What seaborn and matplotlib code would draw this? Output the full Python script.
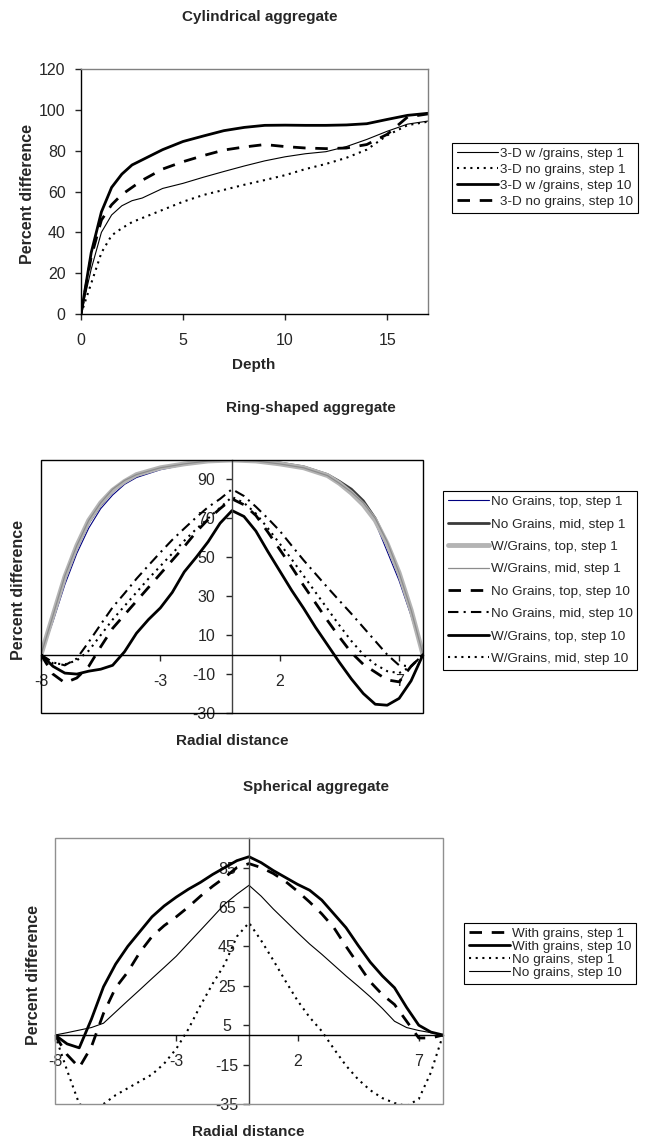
import pandas as pd
import seaborn as sns
import matplotlib.pyplot as plt
from matplotlib.patches import Rectangle

# ---- Cylindrical aggregate ----
depth = [0, 0.5, 1, 1.5, 2, 2.5, 3, 4, 5, 6, 7, 8, 9, 10, 11, 12, 13, 14, 15, 16, 17]
cyl_wg1 = [0, 22, 40, 48.5, 53, 55.5, 56.8, 61.5, 64, 67, 69.8, 72.5, 75, 77, 78.5, 79.5, 82, 85.5, 89.5, 93, 94.5]
cyl_ng1 = [0, 15, 30, 38.5, 42, 45, 47, 51, 55, 58.3, 60.8, 63.3, 65.6, 68, 71, 73.5, 76.5, 80.5, 87.5, 92.5, 94.2]
cyl_wg10 = [0, 30, 50, 62, 68.5, 73, 75.5, 80.5, 84.5, 87.2, 89.8, 91.4, 92.4, 92.5, 92.4, 92.4, 92.6, 93.2, 95.3, 97.3, 98.3]
cyl_ng10 = [0, 28, 46, 53.5, 58.5, 62, 65.5, 71, 74.6, 77.6, 80.3, 81.8, 83, 82, 81.3, 81, 81.3, 83, 88, 96.5, 98]

# ---- Ring-shaped aggregate ----
ring_x1 = [-8, -7.5, -7, -6.5, -6, -5.5, -5, -4.5, -4, -3, -2, -1, 0,
           1, 2, 3, 4, 4.5, 5, 5.5, 6, 6.5, 7, 7.5, 8]
ring_ng_top1 = [0, 17, 36, 52, 65, 75, 82, 87.5, 91, 95, 97.5, 99, 100,
                99.5, 98.5, 96, 92, 88.5, 83.5, 77, 68, 53, 38, 20, 0]
ring_ng_mid1 = [0, 19, 39, 55, 68, 77, 84, 89, 92, 96, 98, 99.5, 100,
                99.5, 98.5, 96.5, 92.5, 89, 85, 79, 70, 57, 41, 22, 0]
ring_wg_top1 = [0, 20, 40, 56, 69, 78, 84.5, 89, 92.5, 96, 98, 99.5, 100,
                99.5, 98, 96, 92, 88, 83, 77, 69, 57, 42, 23, 0]
ring_wg_mid1 = [0, 20, 40.5, 56, 69, 78, 85, 89.5, 92.5, 96, 98, 99.5, 100,
                99.5, 98, 96, 92, 88, 83.5, 78, 70, 58, 42, 23, 0]

ring_x10 = [-8, -7.5, -7, -6.5, -6, -5.5, -5, -4.5, -4, -3.5, -3, -2.5, -2, -1.5, -1, -0.5, 0,
            0.5, 1, 1.5, 2, 2.5, 3, 3.5, 4, 4.5, 5, 5.5, 6, 6.5, 7, 7.5, 8]
ring_ng_top10 = [0, -10, -14.5, -12, -6, 4, 13.5, 20.5, 27.5, 34.5, 41.5, 48.5, 55.5, 63, 69.5, 75, 80,
                 77, 71.5, 63, 54, 45, 35.5, 26.5, 17.5, 9, 1, -5, -9, -13, -14, -6, 0]
ring_ng_mid10 = [0, -4, -5.5, -2, 6.5, 15.5, 24.3, 31.5, 39, 45.8, 52.5, 59, 64.8, 70.5, 75.8, 80, 85,
                 81.5, 76, 70, 63.6, 56, 48.5, 41.5, 34.5, 27.7, 21, 14, 7, 0, -5.5, -6, 0]
ring_wg_top10 = [0, -6, -9.5, -10, -8.5, -7.5, -5.5, 1.5, 11, 18, 24, 32, 42.5, 50, 58, 67.5, 74,
                 71, 63.5, 53, 43, 33, 23.8, 14, 5, -4, -12.5, -20, -25.5, -26, -22.5, -13.5, 0]
ring_wg_mid10 = [0, -4.5, -5, -3, 2, 10, 18, 25, 32, 39, 45.5, 52, 58.5, 64.5, 70, 75.5, 81,
                 78, 72.5, 65, 57, 49, 40.5, 32, 23.5, 15, 7, 0, -5, -8.5, -9.5, -6, 0]

# ---- Spherical aggregate ----
sph_x = [-8, -7.5, -7, -6.5, -6, -5.5, -5, -4.5, -4, -3.5, -3, -2.5, -2, -1.5, -1, -0.5, 0,
         0.5, 1, 1.5, 2, 2.5, 3, 3.5, 4, 4.5, 5, 5.5, 6, 6.5, 7, 7.5, 8]
sph_wg1 = [0, -10, -16.5, -6, 11, 24, 32, 42, 50, 55.5, 60, 65, 70.5, 75.5, 80, 85, 87,
           85, 82, 78, 73, 67.5, 61.5, 54.5, 45, 36, 27, 20.5, 15.5, 7, -1.5, -1.5, 0]
sph_wg10 = [0, -4.5, -6.5, 8, 24.5, 36, 45, 52.5, 60, 65.5, 70, 74, 77.5, 81.5, 85, 88.5, 90.5,
            87.5, 83.5, 80, 76.5, 73.5, 68.5, 61.5, 54.5, 45.5, 37, 30, 24, 14, 5, 1.5, 0]
sph_ng1 = [0, -18, -35, -38, -35, -30.5, -27, -23.5, -20, -14.5, -7, 3, 15, 26, 36, 50, 57,
           48, 38, 27.5, 17.5, 9, 2, -7, -15.5, -22.5, -28, -32, -34.5, -36, -32.5, -19, 0]
sph_ng10 = [0, 1.2, 2.5, 3.8, 6, 11.7, 17.4, 23, 28.7, 34.3, 40, 46.6, 53.2, 59.8, 66.5, 71.5, 76,
            70.5, 64, 58, 52, 46.2, 41, 35.5, 30, 24.8, 19.4, 13.5, 7, 3.8, 2.3, 1.2, 0]

W, H = 645, 1140
DASH = (0, (4.5, 3.5))
DOT = (0, (1, 2.2))
DASHDOT = (0, (5, 2.5, 1, 2.5))

sns.set_style('ticks')
plt.rcParams['font.family'] = ['Liberation Sans', 'DejaVu Sans']
plt.rcParams['axes.unicode_minus'] = False

fig = plt.figure(figsize=(W / 100, H / 100), dpi=100)


def rect(x0, y0, x1, y1):
    return [x0 / W, 1 - y1 / H, (x1 - x0) / W, (y1 - y0) / H]


def line(ax, x, y, label, color='black', lw=1.0, ls='-'):
    sns.lineplot(x=x, y=y, ax=ax, color=color, linewidth=lw, linestyle=ls,
                 label=label, legend=False, errorbar=None)


def add_legend(ax, x, y, spacing):
    leg = ax.legend(loc='upper left', bbox_to_anchor=(x / W, 1 - y / H),
                    bbox_transform=fig.transFigure, frameon=True, fancybox=False,
                    edgecolor='black', framealpha=1, borderaxespad=0, fontsize=9.7,
                    handlelength=3.1, handletextpad=0.1, labelspacing=spacing,
                    borderpad=0.35)
    leg.get_frame().set_linewidth(0.8)


def ftext(x, y, s, size=11, rot=0):
    fig.text(x / W, 1 - y / H, s, ha='center', va='center', fontsize=size,
             fontweight='bold', rotation=rot)


# top chart
ax1 = fig.add_axes(rect(81, 69, 428, 314))
line(ax1, depth, cyl_wg1, '3-D w /grains, step 1', lw=0.8)
line(ax1, depth, cyl_ng1, '3-D no grains, step 1', lw=1.5, ls=DOT)
line(ax1, depth, cyl_wg10, '3-D w /grains, step 10', lw=2)
line(ax1, depth, cyl_ng10, '3-D no grains, step 10', lw=2, ls=DASH)
ax1.set_xlim(0, 17)
ax1.set_ylim(0, 120)
ax1.set_xticks([0, 5, 10, 15])
ax1.set_yticks(range(0, 121, 20))
ax1.set_xlabel('')
ax1.set_ylabel('')
for s in ['top', 'right']:
    ax1.spines[s].set_color('#808080')
for s in ['left', 'bottom']:
    ax1.spines[s].set_color('black')
for s in ax1.spines.values():
    s.set_linewidth(1)
ax1.tick_params(direction='out', length=4, width=1, labelsize=11.5)
ax1.tick_params(axis='x', pad=10)
ax1.tick_params(axis='y', pad=7)
add_legend(ax1, 452, 143, 0.26)
ftext(260, 17, 'Cylindrical aggregate')
ftext(254, 365, 'Depth', size=11)
ftext(28, 194, 'Percent difference', size=11.5, rot=90)


def centre_axes(ax, frame_color, ypad, yha):
    ax.spines['left'].set_position(('data', 0))
    ax.spines['bottom'].set_position(('data', 0))
    ax.spines['top'].set_visible(False)
    ax.spines['right'].set_visible(False)
    ax.spines['left'].set_color('#404040')
    ax.spines['bottom'].set_color('black')
    ax.spines['left'].set_linewidth(1)
    ax.spines['bottom'].set_linewidth(1)
    ax.add_patch(Rectangle((0, 0), 1, 1, transform=ax.transAxes, fill=False,
                           ec=frame_color, lw=1, clip_on=False, zorder=5))
    ax.tick_params(direction='out', length=4, width=1, labelsize=11.5)
    ax.tick_params(axis='x', pad=10)
    ax.tick_params(axis='y', pad=ypad)
    for t in ax.get_yticklabels():
        t.set_ha(yha)
    ax.set_xlabel('')
    ax.set_ylabel('')


# middle chart
ax2 = fig.add_axes(rect(41, 460, 423, 713))
line(ax2, ring_x1, ring_ng_top1, 'No Grains, top, step 1', color='#000080', lw=0.8)
line(ax2, ring_x1, ring_ng_mid1, 'No Grains, mid, step 1', color='#3a3a3a', lw=2)
line(ax2, ring_x1, ring_wg_top1, 'W/Grains, top, step 1', color='#b4b4b4', lw=3.5)
line(ax2, ring_x1, ring_wg_mid1, 'W/Grains, mid, step 1', color='#8c8c8c', lw=0.9)
line(ax2, ring_x10, ring_ng_top10, 'No Grains, top, step 10', lw=2, ls=DASH)
line(ax2, ring_x10, ring_ng_mid10, 'No Grains, mid, step 10', lw=1.5, ls=DASHDOT)
line(ax2, ring_x10, ring_wg_top10, 'W/Grains, top, step 10', lw=2)
line(ax2, ring_x10, ring_wg_mid10, 'W/Grains, mid, step 10', lw=1.5, ls=DOT)
ax2.set_xlim(-8, 8)
ax2.set_ylim(-30, 100)
ax2.set_xticks([-8, -3, 2, 7])
ax2.set_yticks([-30, -10, 10, 30, 50, 70, 90])
centre_axes(ax2, 'black', 8, 'right')
add_legend(ax2, 443, 491, 0.74)
ftext(311, 408, 'Ring-shaped aggregate')
ftext(232, 741, 'Radial distance', size=11)
ftext(19, 590, 'Percent difference', size=11.5, rot=90)

# bottom chart
ax3 = fig.add_axes(rect(55, 838, 443, 1104))
line(ax3, sph_x, sph_wg1, 'With grains, step 1', lw=2, ls=DASH)
line(ax3, sph_x, sph_wg10, 'With grains, step 10', lw=2)
line(ax3, sph_x, sph_ng1, 'No grains, step 1', lw=1.5, ls=DOT)
line(ax3, sph_x, sph_ng10, 'No grains, step 10', lw=0.8)
ax3.set_xlim(-8, 8)
ax3.set_ylim(-35, 100)
ax3.set_xticks([-8, -3, 2, 7])
ax3.set_yticks([-35, -15, 5, 25, 45, 65, 85])
centre_axes(ax3, '#909090', 12, 'center')
add_legend(ax3, 464, 923, 0.04)
ftext(316, 787, 'Spherical aggregate')
ftext(248, 1132, 'Radial distance', size=11)
ftext(34, 975, 'Percent difference', size=11.5, rot=90)

fig.savefig('out.png', dpi=100)
